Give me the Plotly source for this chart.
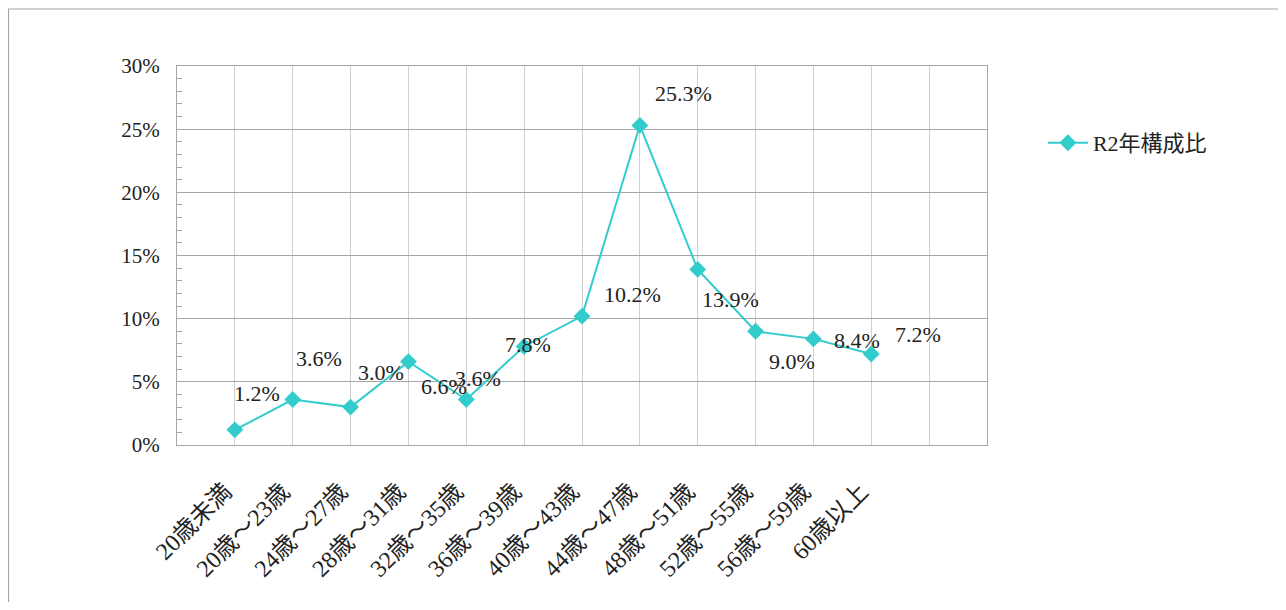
import plotly.graph_objects as go

categories = ["20歳未満", "20歳～23歳", "24歳～27歳", "28歳～31歳", "32歳～35歳", "36歳～39歳",
              "40歳～43歳", "44歳～47歳", "48歳～51歳", "52歳～55歳", "56歳～59歳", "60歳以上"]
values = [0.012, 0.036, 0.030, 0.066, 0.036, 0.078, 0.102, 0.253, 0.139, 0.090, 0.084, 0.072]
series_name = "R2年構成比"

# label offsets (pixels) for data labels, as placed in the reference
label_dx = [22, 26, 30, 36, 12, 4, 50, 44, 33, 36, 44, 47]
label_dy = [-36, -41, -35, 25, -21, -2, -22, -32, 30, 30, 2, -20]

positions = list(range(1, len(categories) + 1))
color = "#33CCCC"
serif = "Liberation Serif, Noto Sans CJK JP"

# page has an 8px body margin; plot area in page px: x 177..987, y 66..445
L, T, PW, PH = 169, 58, 810, 379
W, H = 1270, 594

fig = go.Figure()
fig.add_trace(go.Scatter(
    x=positions, y=values, name=series_name, mode="lines+markers",
    line=dict(color=color, width=2),
    marker=dict(symbol="diamond", size=13, color=color),
))

for x, v, dx, dy in zip(positions, values, label_dx, label_dy):
    fig.add_annotation(x=x, y=v, text=f"{v*100:.1f}%", showarrow=False,
                       xshift=dx, yshift=-dy,
                       font=dict(family=serif, size=22, color="#222"))

fig.add_shape(type="rect", xref="paper", yref="paper",
              x0=(0.5 - L) / PW, x1=(W + 20 - L) / PW,
              y0=(T + PH - 1) / PH, y1=(T + PH - H - 20) / PH,
              line=dict(color="#a6a6a6", width=1.2), fillcolor="rgba(0,0,0,0)", layer="below")

fig.update_layout(
    width=W, height=H,
    margin=dict(l=L, r=W - L - PW, t=T, b=H - T - PH),
    paper_bgcolor="white", plot_bgcolor="white",
    showlegend=True,
    legend=dict(x=1.069, y=0.797, xanchor="left", yanchor="middle",
                font=dict(family=serif, size=22, color="#222"), itemwidth=40),
    xaxis=dict(range=[0, 14], tickmode="array", tickvals=positions + [13],
               ticktext=categories + [""], tickangle=-45,
               showgrid=True, gridcolor="#d0d0d0", gridwidth=1,
               showline=True, linecolor="#a6a6a6", linewidth=1.2, mirror=True,
               ticks="", zeroline=False, ticklabelstandoff=22, ticklabelshift=-10,
               tickfont=dict(family=serif, size=24, color="#222")),
    yaxis=dict(range=[0, 0.30], dtick=0.05, tickformat=".0%",
               showgrid=True, gridcolor="#a6a6a6", gridwidth=1,
               showline=True, linecolor="#a6a6a6", linewidth=1.2, mirror=True,
               ticks="", zeroline=False, ticklabelstandoff=12,
               minor=dict(dtick=0.01, ticks="inside", ticklen=5, tickcolor="#a6a6a6", showgrid=False),
               tickfont=dict(family=serif, size=21, color="#222")),
)

fig.write_html("out.html")
